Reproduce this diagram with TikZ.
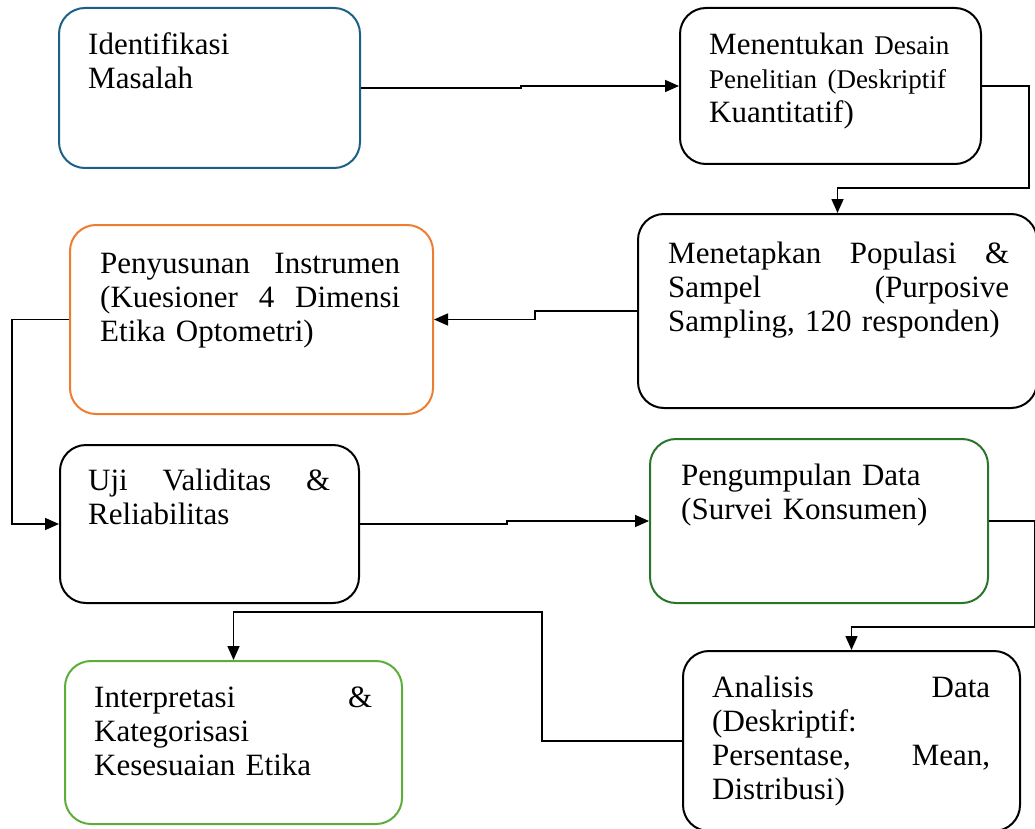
\documentclass[tikz,border=0pt]{standalone}
\usepackage{fontspec}
\setmainfont{Liberation Serif}
\usetikzlibrary{arrows.meta,calc}
\definecolor{cblue}{RGB}{27,97,135}
\definecolor{corange}{RGB}{237,125,49}
\definecolor{cdgreen}{RGB}{40,118,40}
\definecolor{clgreen}{RGB}{92,174,58}
\tikzset{
  box/.style={draw, line width=2pt, rounded corners=26pt, inner sep=0pt, anchor=north west},
  txt/.style={anchor=base west, inner sep=0pt, align=left, font=\fontsize{31}{34}\selectfont},
  conn/.style={draw, line width=1.6pt, -{Triangle[length=14pt,width=12pt]}}
}
\begin{document}
\begin{tikzpicture}[x=1pt, y=-1pt]
\useasboundingbox (0,0) rectangle (1035,829);
% boxes
\node[box, cblue, minimum width=301pt, minimum height=160pt] (b1) at (58,7) {};
\node[box, black, minimum width=301pt, minimum height=156pt] (b2) at (679,7) {};
\node[box, black, minimum width=399pt, minimum height=194pt] (b3) at (637,213) {};
\node[box, corange, minimum width=363pt, minimum height=189pt] (b4) at (69,224) {};
\node[box, black, minimum width=299pt, minimum height=158pt] (b5) at (59,444) {};
\node[box, cdgreen, minimum width=338pt, minimum height=164pt] (b6) at (649,438) {};
\node[box, black, minimum width=337pt, minimum height=180pt] (b7) at (682,650) {};
\node[box, clgreen, minimum width=337pt, minimum height=163pt] (b8) at (64,660) {};
% texts
\node[txt, text width=260pt] (t1) at (88,55) {Identifikasi\\Masalah};
\node[txt, text width=250pt] (t2) at (709,55) {Menentukan {\fontsize{27}{34}\selectfont Desain}\\{\fontsize{27}{34}\selectfont Penelitian (Deskriptif}\\Kuantitatif)};
\node[txt, text width=341pt] (t3) at (668,263) {Menetapkan\hfill Populasi\hfill \&\\Sampel\hfill (Purposive\\Sampling, 120 responden)};
\node[txt, text width=300pt] (t4) at (100,273) {Penyusunan\hfill Instrumen\\(Kuesioner\hfill 4\hfill Dimensi\\Etika Optometri)};
\node[txt, text width=242pt] (t5) at (88,490) {Uji\hfill Validitas\hfill \&\\Reliabilitas};
\node[txt, text width=280pt] (t6) at (681,485) {Pengumpulan Data\\(Survei Konsumen)};
\node[txt, text width=278pt] (t7) at (712,697) {Analisis\hfill Data\\(Deskriptif:\\Persentase,\hfill Mean,\\Distribusi)};
\node[txt, text width=278pt] (t8) at (94,707) {Interpretasi\hfill \&\\Kategorisasi\\Kesesuaian Etika};
% connectors
\draw[conn] (b1.east) -- ++(160,0) |- (b2.west);
\draw[conn] (b2.east) -- ++(47,0) |- ($(b3.north)+(0,-25)$) -- (b3.north);
\draw[conn] (b3.west) -- ++(-102,0) |- (b4.east);
\draw[conn] (b4.west) -- ++(-57,0) |- (b5.west);
\draw[conn] (b5.east) -- ++(147,0) |- (b6.west);
\draw[conn] (b6.east) -- ++(46,0) |- ($(b7.north)+(0,-23)$) -- (b7.north);
\draw[conn] (b7.west) -- ++(-140,0) |- ($(b8.north)+(0,-48)$) -- (b8.north);
\end{tikzpicture}
\end{document}
